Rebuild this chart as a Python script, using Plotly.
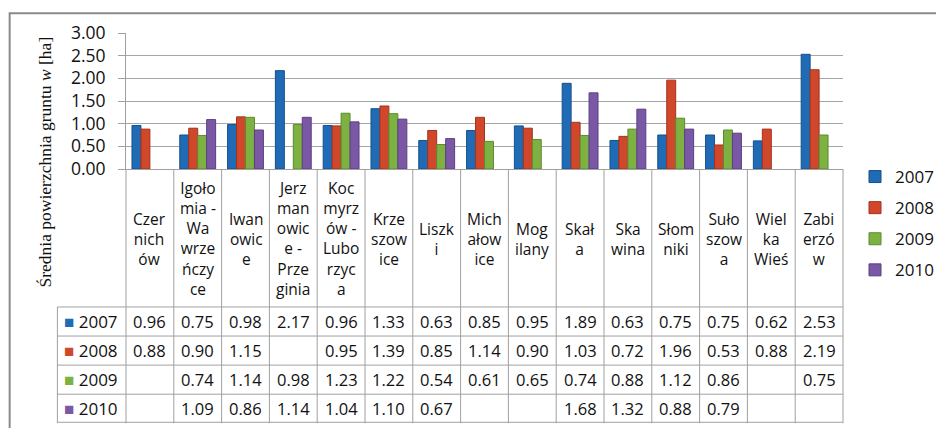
import plotly.graph_objects as go

# ---------------- data ----------------
categories = ["Czerniców", "Igołomia - Wawrzeńczyce", "Iwanowice", "Jerzmanowice - Przeginia",
              "Kocmyrzów - Luborzyca", "Krzeszowice", "Liszki", "Michałowice", "Mogilany",
              "Skała", "Skawina", "Słomniki", "Sułoszowa", "Wielka Wieś", "Zabierzów"]
header_labels = ["Czer<br>nich<br>ów", "Igoło<br>mia -<br>Wa<br>wrze<br>ńczy<br>ce", "Iwan<br>owic<br>e",
                 "Jerz<br>man<br>owic<br>e -<br>Prze<br>ginia", "Koc<br>myrz<br>ów -<br>Lubo<br>rzyc<br>a",
                 "Krze<br>szow<br>ice", "Liszk<br>i", "Mich<br>ałow<br>ice", "Mog<br>ilany", "Skał<br>a",
                 "Ska<br>wina", "Słom<br>niki", "Suło<br>szow<br>a", "Wiel<br>ka<br>Wieś", "Zabi<br>erzó<br>w"]
years = ["2007", "2008", "2009", "2010"]
v2007 = [0.96, 0.75, 0.98, 2.17, 0.96, 1.33, 0.63, 0.85, 0.95, 1.89, 0.63, 0.75, 0.75, 0.62, 2.53]
v2008 = [0.88, 0.90, 1.15, None, 0.95, 1.39, 0.85, 1.14, 0.90, 1.03, 0.72, 1.96, 0.53, 0.88, 2.19]
v2009 = [None, 0.74, 1.14, 0.98, 1.23, 1.22, 0.54, 0.61, 0.65, 0.74, 0.88, 1.12, 0.86, None, 0.75]
v2010 = [None, 1.09, 0.86, 1.14, 1.04, 1.10, 0.67, None, None, 1.68, 1.32, 0.88, 0.79, None, None]
y_title = "Średnia powierzchnia gruntu <i>w</i> [ha]"

series = [v2007, v2008, v2009, v2010]
colors = ["#1f6bb5", "#d1472b", "#7db243", "#7b58a6"]
edges = ["#15508c", "#a2331d", "#5c8a2c", "#5a3f80"]

# ---------------- layout geometry ----------------
# page body has an 8px margin, so figure pixel = screen pixel - 8
OFF = 8
W, H = 944 - OFF, 428 - OFF
PL, PR, PT, PB = 126 - OFF, 847 - OFF, 31 - OFF, 169 - OFF   # plot area (figure px)
ROW_TOP = 309 - OFF
ROW_H = 29.5
TABLE_LEFT = 57 - OFF
TABLE_BOTTOM = ROW_TOP + 4 * ROW_H


def px_x(p):
    return (p - PL) / (PR - PL)


def px_y(p):
    return (PB - p) / (PB - PT)


FONT = "Open Sans"
GRID = "#a6a6a6"
LINE = "#a0a0a0"
TXT = "#111111"

fig = go.Figure()
for i, (yr, vals) in enumerate(zip(years, series)):
    fig.add_trace(go.Bar(
        x=categories, y=vals, name=yr,
        marker=dict(color=colors[i], line=dict(color=edges[i], width=1)),
        legendgroup=yr,
    ))

annotations = []
shapes = []
n = len(categories)

# header (category names) centered in header cell
for cat, lab in zip(categories, header_labels):
    annotations.append(dict(x=cat, xref="x", y=px_y((PB + ROW_TOP) / 2 + 1), yref="paper",
                            text=lab, showarrow=False, xanchor="center", yanchor="middle",
                            font=dict(family=FONT, size=15.5, color=TXT)))

# data rows
for r, (yr, vals) in enumerate(zip(years, series)):
    yc = px_y(ROW_TOP + ROW_H * (r + 0.5))
    annotations.append(dict(x=px_x(TABLE_LEFT + 5), xref="paper", y=yc, yref="paper",
                            text=f"<span style='color:{colors[r]}'>■</span> {yr}", showarrow=False,
                            xanchor="left", yanchor="middle",
                            font=dict(family=FONT, size=17, color=TXT)))
    for cat, v in zip(categories, vals):
        if v is None:
            continue
        annotations.append(dict(x=cat, xref="x", y=yc, yref="paper", text=f"{v:.2f}",
                                showarrow=False, xanchor="center", yanchor="middle",
                                font=dict(family=FONT, size=16.5, color=TXT)))

# table lines
for i in range(n + 1):
    shapes.append(dict(type="line", xref="paper", yref="paper", x0=i / n, x1=i / n,
                       y0=px_y(PB), y1=px_y(TABLE_BOTTOM), line=dict(color=LINE, width=1)))
shapes.append(dict(type="line", xref="paper", yref="paper", x0=px_x(TABLE_LEFT), x1=px_x(TABLE_LEFT),
                   y0=px_y(ROW_TOP), y1=px_y(TABLE_BOTTOM), line=dict(color=LINE, width=1)))
for r in range(5):
    yy = px_y(ROW_TOP + ROW_H * r)
    if r == 4:
        yy = px_y(TABLE_BOTTOM - 1)
    shapes.append(dict(type="line", xref="paper", yref="paper", x0=px_x(TABLE_LEFT), x1=1,
                       y0=yy, y1=yy, line=dict(color=LINE, width=1)))

# outer chart frame (left & top visible)
shapes.append(dict(type="path", xref="paper", yref="paper",
                   path=f"M{px_x(9 - OFF)},{px_y(H + 5)} L{px_x(9 - OFF)},{px_y(11 - OFF)} L{px_x(W + 5)},{px_y(11 - OFF)}",
                   line=dict(color="#8a8a8a", width=2)))

# y axis title
annotations.append(dict(x=px_x(45 - OFF), xref="paper", y=px_y(162 - OFF), yref="paper", text=y_title,
                        textangle=-90, showarrow=False, xanchor="center", yanchor="middle",
                        font=dict(family="Liberation Serif", size=17.5, color=TXT)))

fig.update_layout(
    width=W, height=H,
    margin=dict(l=PL, r=W - PR, t=PT, b=H - PB, pad=0),
    paper_bgcolor="white", plot_bgcolor="white",
    barmode="group", bargap=0.25, bargroupgap=0,
    font=dict(family=FONT, size=16, color=TXT),
    xaxis=dict(showticklabels=False, ticks="", showgrid=False, showline=True,
               linecolor=LINE, linewidth=1, zeroline=False, fixedrange=True),
    yaxis=dict(range=[0, 3], dtick=0.5, tickformat=".2f", showgrid=True, gridcolor=GRID,
               gridwidth=1, showline=True, linecolor=LINE, linewidth=1, ticks="outside",
               ticklen=7, tickcolor=LINE, zeroline=False,
               tickfont=dict(family=FONT, size=17.5, color=TXT), ticklabelstandoff=9),
    legend=dict(xref="container", yref="container", x=847 / W, y=1 - 151 / H,
                xanchor="left", yanchor="top", tracegroupgap=6, traceorder="grouped",
                font=dict(family=FONT, size=17, color=TXT), bgcolor="rgba(0,0,0,0)"),
    annotations=annotations, shapes=shapes,
    showlegend=True,
)

fig.write_html("out.html")
